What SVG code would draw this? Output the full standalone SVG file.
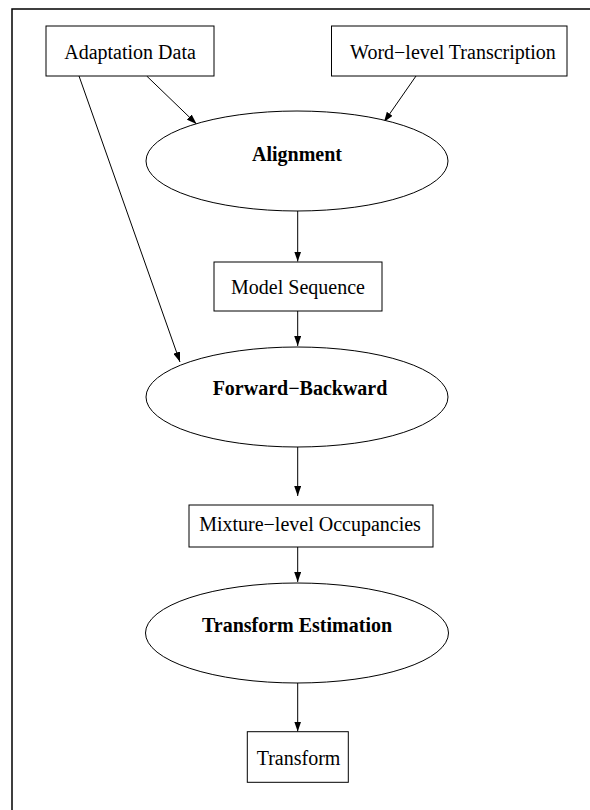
<svg xmlns="http://www.w3.org/2000/svg" width="590" height="810" viewBox="0 0 590 810">
  <style>
    .frame { fill: none; stroke: #000; stroke-width: 1.5; }
    .box { fill: #fff; stroke: #000; stroke-width: 1; }
    .proc { fill: #fff; stroke: #000; stroke-width: 1; }
    .lbl { font-family: "Liberation Serif", "Times New Roman", serif; font-size: 20px; fill: #000; text-anchor: middle; }
    .bold { font-weight: bold; }
    .edge { fill: none; stroke: #000; stroke-width: 1; marker-end: url(#arrow); }
  </style>
  <defs>
    <marker id="arrow" viewBox="0 0 10 7" refX="10" refY="3.5" markerWidth="10" markerHeight="7" orient="auto" markerUnits="userSpaceOnUse">
      <path d="M0,0 L10,3.5 L0,7 z" fill="#000"/>
    </marker>
  </defs>

  <rect width="590" height="810" fill="#fff"/>
  <!-- page frame: only left and top edges fall inside the page -->
  <path class="frame" d="M12,810 L12,9 L590,9"/>

  <!-- connectors -->
  <g id="edges">
    <line class="edge" x1="146.7" y1="76" x2="196.5" y2="124"/>
    <line class="edge" x1="416" y1="76" x2="384" y2="122"/>
    <line class="edge" x1="79" y1="76" x2="180" y2="362"/>
    <line class="edge" x1="297.7" y1="211" x2="297.7" y2="261.5"/>
    <line class="edge" x1="297.7" y1="311" x2="297.7" y2="346"/>
    <line class="edge" x1="297.7" y1="447" x2="297.7" y2="496"/>
    <line class="edge" x1="297.7" y1="547" x2="297.7" y2="582"/>
    <line class="edge" x1="297.7" y1="683" x2="297.7" y2="731.5"/>
  </g>

  <!-- nodes -->
  <g id="adaptation-data">
    <rect class="box" x="46" y="26" width="168" height="50"/>
    <text class="lbl" x="130" y="58.5">Adaptation Data</text>
  </g>
  <g id="word-level-transcription">
    <rect class="box" x="331.5" y="26" width="235.5" height="50"/>
    <text class="lbl" x="453" y="58.5">Word−level Transcription</text>
  </g>
  <g id="alignment">
    <ellipse class="proc" cx="297" cy="161" rx="151" ry="50"/>
    <text class="lbl bold" x="297" y="160.5">Alignment</text>
  </g>
  <g id="model-sequence">
    <rect class="box" x="214" y="262" width="168" height="49"/>
    <text class="lbl" x="298" y="294">Model Sequence</text>
  </g>
  <g id="forward-backward">
    <ellipse class="proc" cx="297" cy="397" rx="151" ry="50"/>
    <text class="lbl bold" x="300" y="395">Forward−Backward</text>
  </g>
  <g id="mixture-level-occupancies">
    <rect class="box" x="189" y="505" width="244" height="42"/>
    <text class="lbl" x="310" y="531">Mixture−level Occupancies</text>
  </g>
  <g id="transform-estimation">
    <ellipse class="proc" cx="297" cy="633" rx="151.5" ry="50"/>
    <text class="lbl bold" x="297" y="631.5">Transform Estimation</text>
  </g>
  <g id="transform">
    <rect class="box" x="247.3" y="731.7" width="101" height="50.6"/>
    <text class="lbl" x="298.5" y="765">Transform</text>
  </g>
</svg>
